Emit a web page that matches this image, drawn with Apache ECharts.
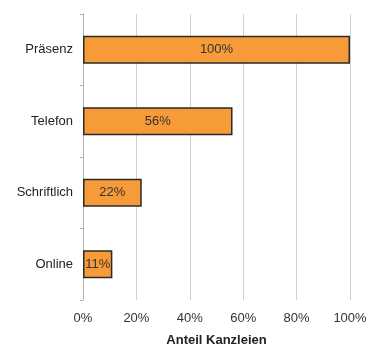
<!DOCTYPE html>
<html>
<head>
<meta charset="utf-8">
<script src="https://cdn.jsdelivr.net/npm/echarts@6/dist/echarts.min.js"></script>
<style>html,body{margin:0;padding:0;background:#fff}#c{width:378px;height:346px}</style>
</head>
<body>
<div id="c"></div>
<script>
const categories = ["Präsenz", "Telefon", "Schriftlich", "Online"];
const values = [100, 56, 22, 11];
const xTicks = [0, 20, 40, 60, 80, 100];
const axisTitle = "Anteil Kanzleien";

const chart = echarts.init(document.getElementById('c'), null, {renderer: 'canvas'});
chart.setOption({
  animation: false,
  backgroundColor: '#ffffff',
  textStyle: {fontFamily: 'Liberation Sans, Arial, sans-serif'},
  grid: {left: 83, right: 28, top: 14, bottom: 46, containLabel: false, outerBoundsMode: 'none'},
  xAxis: {
    type: 'value', min: xTicks[0], max: xTicks[xTicks.length - 1], interval: 20,
    axisLine: {show: false},
    axisTick: {show: false},
    splitLine: {show: true, lineStyle: {color: '#d0d0d0', width: 1}},
    axisLabel: {color: '#333', fontSize: 13, margin: 12, formatter: v => v + '%'},
    name: axisTitle, nameLocation: 'middle', nameGap: 34,
    nameTextStyle: {color: '#222', fontSize: 13, fontWeight: 'bold'}
  },
  yAxis: {
    type: 'category', data: categories, inverse: true,
    axisLine: {show: true, lineStyle: {color: '#b0b0b0', width: 1}},
    axisTick: {show: true, length: 3, lineStyle: {color: '#b0b0b0'}},
    axisLabel: {color: '#222', fontSize: 13, margin: 10}
  },
  series: [{
    type: 'bar', data: values, barWidth: '39%',
    itemStyle: {color: '#F79A38', borderColor: '#2a2a2a', borderWidth: 1.5},
    label: {show: true, position: 'inside', color: '#333', fontSize: 13, formatter: p => p.value + '%'}
  }]
});
</script>
</body>
</html>
